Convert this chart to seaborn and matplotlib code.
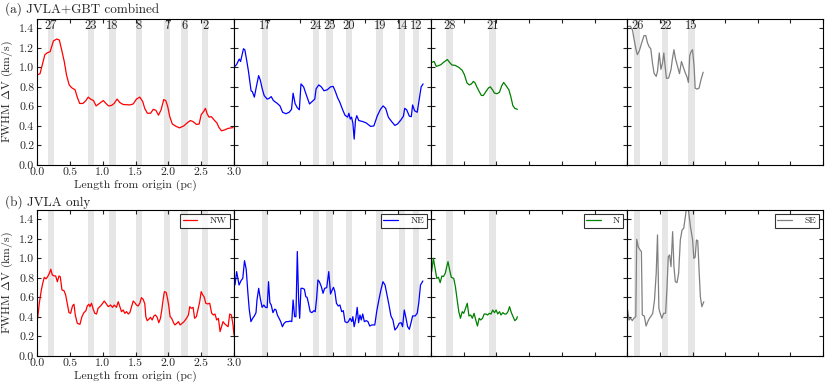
import matplotlib
matplotlib.use("Agg")
import matplotlib.pyplot as plt
import seaborn as sns
import pandas as pd

# ---------------- data ----------------
# (a) JVLA+GBT combined
nw_comb_x = [0.0, 0.046, 0.086, 0.12, 0.16, 0.2, 0.25, 0.30, 0.34, 0.375, 0.415, 0.45, 0.49, 0.53, 0.58, 0.61, 0.65, 0.70, 0.745, 0.78, 0.815, 0.86, 0.90, 0.95, 1.01, 1.05, 1.09, 1.135, 1.175, 1.22, 1.26, 1.31, 1.41, 1.465, 1.515, 1.565, 1.61, 1.64, 1.68, 1.73, 1.77, 1.81, 1.85, 1.89, 1.93, 1.96, 1.99, 2.02, 2.06, 2.12, 2.17, 2.235, 2.285, 2.335, 2.375, 2.43, 2.47, 2.50, 2.54, 2.565, 2.59, 2.62, 2.655, 2.705, 2.74, 2.77, 2.81, 2.86, 2.91, 2.985]
nw_comb_y = [0.92, 0.935, 1.04, 1.13, 1.15, 1.16, 1.27, 1.29, 1.28, 1.18, 1.06, 0.92, 0.82, 0.79, 0.77, 0.70, 0.63, 0.63, 0.66, 0.695, 0.675, 0.66, 0.605, 0.63, 0.66, 0.63, 0.605, 0.61, 0.63, 0.675, 0.64, 0.62, 0.615, 0.625, 0.675, 0.695, 0.65, 0.58, 0.53, 0.53, 0.57, 0.56, 0.51, 0.565, 0.67, 0.66, 0.60, 0.50, 0.42, 0.395, 0.38, 0.40, 0.43, 0.455, 0.445, 0.415, 0.42, 0.515, 0.55, 0.58, 0.525, 0.49, 0.495, 0.455, 0.43, 0.385, 0.35, 0.36, 0.375, 0.383]

ne_comb_x = [0.015, 0.04, 0.08, 0.10, 0.144, 0.165, 0.196, 0.22, 0.26, 0.28, 0.31, 0.34, 0.375, 0.40, 0.43, 0.46, 0.505, 0.53, 0.567, 0.60, 0.66, 0.70, 0.74, 0.79, 0.84, 0.876, 0.90, 0.93, 0.96, 0.995, 1.02, 1.06, 1.10, 1.15, 1.19, 1.23, 1.25, 1.29, 1.33, 1.37, 1.42, 1.47, 1.51, 1.545, 1.58, 1.61, 1.655, 1.69, 1.73, 1.75, 1.77, 1.79, 1.81, 1.83, 1.85, 1.87, 1.90, 1.96, 2.015, 2.08, 2.13, 2.18, 2.23, 2.27, 2.31, 2.35, 2.40, 2.45, 2.49, 2.54, 2.58, 2.60, 2.63, 2.67, 2.70, 2.72, 2.75, 2.79, 2.82, 2.85, 2.88]
ne_comb_y = [1.01, 1.03, 1.085, 1.06, 1.19, 1.18, 1.06, 0.96, 0.76, 0.75, 0.695, 0.80, 0.915, 0.87, 0.78, 0.71, 0.675, 0.68, 0.70, 0.66, 0.63, 0.605, 0.54, 0.525, 0.54, 0.57, 0.735, 0.63, 0.59, 0.565, 0.83, 0.80, 0.72, 0.625, 0.65, 0.675, 0.78, 0.82, 0.80, 0.76, 0.77, 0.80, 0.805, 0.75, 0.685, 0.645, 0.565, 0.51, 0.49, 0.53, 0.47, 0.49, 0.43, 0.265, 0.46, 0.505, 0.455, 0.445, 0.43, 0.395, 0.40, 0.50, 0.57, 0.605, 0.58, 0.49, 0.445, 0.405, 0.42, 0.46, 0.50, 0.58, 0.565, 0.50, 0.495, 0.615, 0.555, 0.54, 0.67, 0.80, 0.83]

n_comb_x = [0.01, 0.047, 0.08, 0.114, 0.15, 0.19, 0.25, 0.285, 0.32, 0.37, 0.425, 0.476, 0.51, 0.55, 0.585, 0.617, 0.648, 0.674, 0.70, 0.736, 0.77, 0.80, 0.84, 0.88, 0.907, 0.94, 0.97, 1.01, 1.047, 1.08, 1.11, 1.15, 1.19, 1.22, 1.25, 1.28, 1.32]
n_comb_y = [1.05, 1.06, 1.01, 1.017, 1.027, 1.05, 1.08, 1.05, 1.024, 1.02, 1.0, 0.97, 0.925, 0.84, 0.82, 0.83, 0.856, 0.84, 0.80, 0.753, 0.712, 0.712, 0.753, 0.79, 0.80, 0.77, 0.736, 0.73, 0.746, 0.81, 0.845, 0.81, 0.77, 0.70, 0.61, 0.58, 0.57]

se_comb_x = [0.015, 0.05, 0.08, 0.10, 0.134, 0.154, 0.185, 0.22, 0.257, 0.283, 0.31, 0.335, 0.36, 0.386, 0.41, 0.443, 0.463, 0.49, 0.515, 0.54, 0.56, 0.58, 0.60, 0.633, 0.67, 0.69, 0.715, 0.74, 0.77, 0.80, 0.83, 0.855, 0.885, 0.916, 0.937, 0.957, 0.98, 1.0, 1.024, 1.04, 1.07, 1.10, 1.13, 1.163]
se_comb_y = [1.42, 1.42, 1.38, 1.30, 1.18, 1.13, 1.17, 1.25, 1.325, 1.325, 1.25, 1.21, 1.19, 1.044, 0.94, 0.907, 0.96, 1.147, 0.98, 1.044, 1.147, 1.01, 0.887, 0.89, 0.976, 1.08, 1.18, 1.085, 1.01, 0.935, 1.06, 1.01, 0.95, 0.90, 0.845, 1.12, 1.164, 1.18, 1.01, 0.787, 0.777, 0.787, 0.873, 0.95]

# (b) JVLA only
nw_vla_x = [0.01, 0.035, 0.066, 0.086, 0.11, 0.137, 0.16, 0.188, 0.21, 0.233, 0.26, 0.284, 0.31, 0.335, 0.355, 0.38, 0.41, 0.436, 0.46, 0.487, 0.512, 0.54, 0.563, 0.583, 0.613, 0.654, 0.684, 0.715, 0.745, 0.765, 0.79, 0.806, 0.83, 0.857, 0.88, 0.907, 0.93, 0.968, 1.0, 1.024, 1.05, 1.085, 1.12, 1.15, 1.176, 1.21, 1.237, 1.262, 1.287, 1.313, 1.338, 1.363, 1.39, 1.414, 1.44, 1.465, 1.49, 1.515, 1.54, 1.566, 1.59, 1.617, 1.642, 1.657, 1.678, 1.703, 1.728, 1.754, 1.78, 1.804, 1.83, 1.855, 1.88, 1.90, 1.92, 1.94, 1.967, 1.987, 2.007, 2.027, 2.05, 2.08, 2.10, 2.13, 2.154, 2.18, 2.21, 2.24, 2.276, 2.306, 2.326, 2.35, 2.377, 2.40, 2.427, 2.45, 2.478, 2.50, 2.524, 2.544, 2.57, 2.6, 2.63, 2.66, 2.686, 2.71, 2.737, 2.762, 2.788, 2.81, 2.833, 2.86, 2.884, 2.91, 2.935, 2.96, 2.985, 3.0]
nw_vla_y = [0.386, 0.54, 0.676, 0.74, 0.806, 0.79, 0.81, 0.847, 0.888, 0.83, 0.82, 0.82, 0.76, 0.82, 0.81, 0.676, 0.67, 0.625, 0.54, 0.444, 0.437, 0.512, 0.53, 0.42, 0.335, 0.324, 0.403, 0.444, 0.464, 0.512, 0.53, 0.505, 0.54, 0.478, 0.437, 0.43, 0.488, 0.512, 0.54, 0.563, 0.54, 0.505, 0.522, 0.498, 0.522, 0.498, 0.556, 0.505, 0.454, 0.471, 0.437, 0.454, 0.43, 0.444, 0.505, 0.563, 0.546, 0.522, 0.512, 0.54, 0.597, 0.58, 0.533, 0.403, 0.362, 0.376, 0.396, 0.369, 0.41, 0.42, 0.396, 0.341, 0.386, 0.471, 0.574, 0.659, 0.652, 0.59, 0.512, 0.403, 0.386, 0.341, 0.318, 0.335, 0.352, 0.318, 0.335, 0.352, 0.386, 0.42, 0.505, 0.488, 0.498, 0.386, 0.403, 0.471, 0.556, 0.659, 0.625, 0.608, 0.54, 0.533, 0.54, 0.437, 0.42, 0.43, 0.369, 0.386, 0.25, 0.30, 0.352, 0.328, 0.314, 0.30, 0.43, 0.42, 0.318, 0.215]

ne_vla_x = [0.015, 0.04, 0.077, 0.108, 0.134, 0.16, 0.186, 0.21, 0.232, 0.258, 0.284, 0.31, 0.335, 0.35, 0.376, 0.40, 0.428, 0.454, 0.48, 0.505, 0.526, 0.546, 0.567, 0.593, 0.62, 0.64, 0.66, 0.686, 0.711, 0.737, 0.763, 0.794, 0.825, 0.856, 0.88, 0.90, 0.923, 0.943, 0.964, 0.985, 1.0, 1.02, 1.046, 1.072, 1.093, 1.113, 1.134, 1.16, 1.186, 1.216, 1.237, 1.258, 1.278, 1.30, 1.33, 1.356, 1.38, 1.412, 1.443, 1.47, 1.495, 1.515, 1.536, 1.56, 1.588, 1.613, 1.64, 1.665, 1.69, 1.72, 1.742, 1.768, 1.794, 1.81, 1.83, 1.856, 1.876, 1.897, 1.918, 1.938, 1.96, 1.985, 2.015, 2.04, 2.067, 2.10, 2.144, 2.175, 2.206, 2.237, 2.268, 2.30, 2.33, 2.36, 2.39, 2.42, 2.45, 2.485, 2.515, 2.546, 2.567, 2.593, 2.62, 2.644, 2.67, 2.70, 2.72, 2.758, 2.79, 2.814, 2.84, 2.876]
ne_vla_y = [0.727, 0.864, 0.727, 0.772, 0.796, 0.976, 0.888, 0.659, 0.478, 0.352, 0.386, 0.41, 0.444, 0.574, 0.693, 0.59, 0.498, 0.522, 0.498, 0.495, 0.761, 0.546, 0.522, 0.444, 0.48, 0.471, 0.42, 0.386, 0.352, 0.30, 0.335, 0.352, 0.352, 0.358, 0.352, 0.574, 0.403, 0.403, 1.07, 0.556, 0.386, 0.693, 0.693, 0.683, 0.608, 0.60, 0.54, 0.454, 0.444, 0.464, 0.454, 0.59, 0.778, 0.761, 0.71, 0.642, 0.693, 0.70, 0.864, 0.635, 0.676, 0.703, 0.659, 0.54, 0.512, 0.522, 0.454, 0.464, 0.352, 0.341, 0.352, 0.386, 0.352, 0.403, 0.30, 0.386, 0.498, 0.341, 0.42, 0.369, 0.43, 0.352, 0.362, 0.352, 0.307, 0.318, 0.318, 0.464, 0.574, 0.676, 0.761, 0.727, 0.625, 0.522, 0.41, 0.369, 0.266, 0.294, 0.335, 0.341, 0.30, 0.471, 0.386, 0.30, 0.273, 0.352, 0.41, 0.41, 0.437, 0.546, 0.727, 0.768]

n_vla_x = [0.01, 0.036, 0.062, 0.088, 0.114, 0.14, 0.166, 0.19, 0.218, 0.243, 0.26, 0.285, 0.31, 0.347, 0.373, 0.40, 0.425, 0.45, 0.477, 0.50, 0.528, 0.554, 0.58, 0.606, 0.632, 0.658, 0.684, 0.71, 0.736, 0.76, 0.787, 0.813, 0.84, 0.865, 0.89, 0.917, 0.943, 0.97, 0.995, 1.02, 1.047, 1.07, 1.098, 1.124, 1.15, 1.176, 1.2, 1.228, 1.254, 1.28, 1.306, 1.32]
n_vla_y = [0.864, 1.0, 0.898, 0.795, 0.806, 0.751, 0.819, 0.813, 0.847, 0.922, 0.966, 0.881, 0.806, 0.795, 0.71, 0.574, 0.454, 0.386, 0.454, 0.437, 0.488, 0.54, 0.41, 0.42, 0.386, 0.437, 0.369, 0.307, 0.386, 0.369, 0.386, 0.43, 0.43, 0.42, 0.437, 0.43, 0.471, 0.444, 0.471, 0.43, 0.454, 0.42, 0.444, 0.43, 0.43, 0.454, 0.505, 0.444, 0.403, 0.362, 0.376, 0.403]

se_vla_x = [0.005, 0.026, 0.05, 0.077, 0.10, 0.13, 0.144, 0.17, 0.196, 0.216, 0.23, 0.26, 0.288, 0.314, 0.34, 0.365, 0.39, 0.417, 0.443, 0.463, 0.484, 0.504, 0.53, 0.556, 0.587, 0.607, 0.628, 0.648, 0.67, 0.695, 0.715, 0.736, 0.762, 0.787, 0.813, 0.839, 0.865, 0.89, 0.916, 0.94, 0.968, 1.0, 1.02, 1.04, 1.06, 1.08, 1.10, 1.12, 1.143, 1.173]
se_vla_y = [0.471, 0.369, 0.386, 0.362, 0.386, 0.403, 1.195, 1.113, 1.086, 1.069, 0.42, 0.41, 0.307, 0.352, 0.386, 0.41, 0.437, 0.574, 0.847, 1.239, 0.488, 0.437, 0.386, 0.437, 0.437, 0.676, 1.017, 1.034, 0.915, 1.273, 0.915, 0.761, 0.751, 0.847, 1.188, 1.29, 1.307, 1.427, 1.56, 1.478, 1.325, 1.195, 1.0, 1.01, 1.188, 1.18, 0.881, 0.608, 0.505, 0.556]

# filament positions (pc) and their labels, per region
nw_band_pos = [0.21, 0.82, 1.15, 1.55, 1.98, 2.25, 2.56]
nw_band_lab = ["27", "23", "18", "8", "7", "6", "2"]
ne_band_pos = [0.47, 1.25, 1.45, 1.75, 2.22, 2.56, 2.77]
ne_band_lab = ["17", "24", "25", "20", "19", "14", "12"]
n_band_pos = [0.28, 0.94]
n_band_lab = ["28", "21"]
se_band_pos = [0.15, 0.58, 0.985]
se_band_lab = ["26", "22", "15"]

regions = ["NW", "NE", "N", "SE"]
colors = ["#ff0000", "#0000ff", "#008000", "#808080"]
x_ticks = [0.0, 0.5, 1.0, 1.5, 2.0, 2.5, 3.0]
y_ticks = [0.0, 0.2, 0.4, 0.6, 0.8, 1.0, 1.2, 1.4]

# ---------------- style ----------------
sns.set_style("ticks", {
    "xtick.direction": "in", "ytick.direction": "in",
    "xtick.top": True, "ytick.right": True,
    "axes.edgecolor": "black", "axes.linewidth": 1.0,
})
plt.rcParams["font.family"] = ["cmr10", "DejaVu Serif"]
plt.rcParams["mathtext.fontset"] = "cm"
plt.rcParams["axes.formatter.use_mathtext"] = True
plt.rcParams["font.size"] = 8
plt.rcParams["xtick.major.size"] = 3
plt.rcParams["ytick.major.size"] = 3

W, H = 830, 390
fig = plt.figure(figsize=(W / 100, H / 100), dpi=100)

edges = [37, 234, 431, 627.3, 823]
rows = [(18.5, 165), (209.5, 356)]

comb = [(nw_comb_x, nw_comb_y), (ne_comb_x, ne_comb_y), (n_comb_x, n_comb_y), (se_comb_x, se_comb_y)]
vla = [(nw_vla_x, nw_vla_y), (ne_vla_x, ne_vla_y), (n_vla_x, n_vla_y), (se_vla_x, se_vla_y)]
bands = [(nw_band_pos, nw_band_lab), (ne_band_pos, ne_band_lab), (n_band_pos, n_band_lab), (se_band_pos, se_band_lab)]

for r, (top, bot) in enumerate(rows):
    data = comb if r == 0 else vla
    for c in range(4):
        l, rr = edges[c], edges[c + 1]
        ax = fig.add_axes([l / W, 1 - bot / H, (rr - l) / W, (bot - top) / H])
        pos, lab = bands[c]
        for p, t in zip(pos, lab):
            ax.axvspan(p - 0.05, p + 0.05, color="#e6e6e6", lw=0, zorder=0)
            if r == 0:
                ax.text(p, 1.42, t, ha="center", va="center", fontsize=9, zorder=3)
        x, y = data[c]
        df = pd.DataFrame({"x": x, "y": y})
        sns.lineplot(data=df, x="x", y="y", ax=ax, color=colors[c], lw=0.9,
                     estimator=None, sort=False,
                     label=regions[c] if r == 1 else None, legend=(r == 1), zorder=2)
        ax.set_xlim(0, 3.0)
        ax.set_ylim(0, 1.5)
        ax.set_xticks(x_ticks)
        ax.set_yticks(y_ticks)
        ax.set_xlabel("")
        ax.set_ylabel("")
        if c == 0:
            ax.set_xticklabels([f"{v:.1f}" for v in x_ticks])
            ax.set_yticklabels([f"{v:.1f}" for v in y_ticks])
            ax.set_xlabel("Length from origin (pc)", labelpad=2, fontsize=8.5)
            ax.set_ylabel(r"FWHM $\Delta$V (km/s)", labelpad=3, fontsize=8.5)
        else:
            ax.set_xticklabels([])
            ax.set_yticklabels([])
        ax.tick_params(labelsize=8.5, pad=2)
        for s in ax.spines.values():
            s.set_visible(True)
            s.set_color("black")
        if r == 1:
            leg = ax.legend(loc="upper right", fontsize=7, frameon=True, fancybox=False,
                            edgecolor="black", handlelength=1.5, handletextpad=1.3,
                            borderpad=0.25, borderaxespad=0.45)
            leg.get_frame().set_linewidth(0.8)

fig.text(5 / W, 1 - 9 / H, "(a) JVLA+GBT combined", ha="left", va="center", fontsize=9.5)
fig.text(5 / W, 1 - 202 / H, "(b) JVLA only", ha="left", va="center", fontsize=9.5)

fig.savefig("out.png", dpi=100)
